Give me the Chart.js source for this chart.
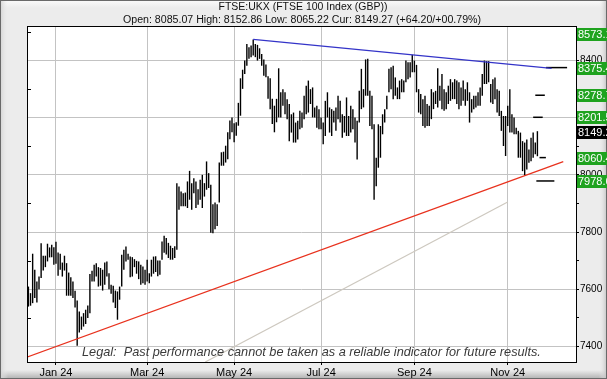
<!DOCTYPE html>
<html><head><meta charset="utf-8">
<script src="https://cdn.jsdelivr.net/npm/chart.js@4/dist/chart.umd.min.js"></script>
<style>html,body{margin:0;padding:0;background:#fff;overflow:hidden}#wrap{width:607px;height:379px}</style>
</head><body><div id="wrap"><canvas id="c" width="607" height="379"></canvas></div>
<script>
const titleText = 'FTSE:UKX (FTSE 100 Index (GBP))';
const subtitleText = 'Open: 8085.07 High: 8152.86 Low: 8065.22 Cur: 8149.27 (+64.20/+00.79%)';
const legalText = 'Legal:  Past performance cannot be taken as a reliable indicator for future results.';

// month tick labels and the trading-day index of each month's first bar
const monthLabels = ['Jan 24', 'Mar 24', 'May 24', 'Jul 24', 'Sep 24', 'Nov 24'];
const monthBarIndex = [13, 56, 97, 138, 182, 226];

const yTickValues = [7400, 7500, 7600, 7700, 7800, 7900, 8000, 8100, 8200, 8300, 8400, 8500];

// daily highs / lows, 241 trading days (mid Dec 2023 .. 21 Nov 2024)
const barHigh = [
 7609,7586,7724,7668,7627,7644,7761,7717,7717,7759,
 7746,7755,7747,7766,7728,7724,7693,7717,7691,7658,
 7642,7627,7594,7560,7522,7504,7516,7528,7543,7653,
 7664,7685,7691,7677,7674,7668,7693,7697,7656,7615,
 7612,7595,7592,7609,7720,7738,7749,7724,7714,7712,
 7705,7699,7697,7685,7679,7668,7703,7656,7703,7714,
 7715,7700,7700,7767,7787,7779,7762,7752,7744,7750,
 7971,7959,7942,7936,7938,7977,8014,7971,7988,7977,
 7950,7983,8000,7971,8047,8006,7965,7897,7903,7897,
 8043,8079,8081,8102,8149,8190,8201,8181,8184,8252,
 8338,8368,8400,8458,8447,8453,8474,8458,8455,8443,
 8423,8404,8386,8345,8338,8266,8242,8266,8373,8289,
 8300,8289,8265,8248,8212,8218,8183,8189,8224,8218,
 8277,8312,8330,8300,8306,8236,8242,8230,8201,8183,
 8259,8289,8236,8230,8224,8236,8277,8259,8212,8206,
 8271,8206,8242,8230,8201,8189,8294,8371,8300,8404,
 8406,8294,8277,8177,8060,8177,8171,8212,8230,8277,
 8371,8377,8382,8341,8306,8330,8335,8330,8400,8394,
 8394,8420,8400,8385,8300,8283,8265,8277,8248,8242,
 8300,8289,8294,8373,8312,8353,8300,8289,8312,8335,
 8324,8335,8330,8324,8306,8330,8300,8324,8289,8265,
 8277,8277,8289,8306,8353,8400,8398,8398,8318,8335,
 8341,8300,8294,8224,8206,8206,8242,8300,8212,8201,
 8165,8154,8148,8118,8113,8124,8089,8130,8148,8113,
 8152.86
];
const barLow = [
 7539,7542,7551,7569,7553,7600,7639,7665,7677,7697,
 7711,7712,7685,7689,7647,7668,7644,7665,7577,7577,
 7577,7569,7536,7402,7448,7458,7469,7478,7499,7516,
 7627,7627,7644,7609,7612,7595,7615,7644,7600,7584,
 7553,7534,7493,7563,7609,7668,7697,7703,7642,7644,
 7677,7654,7635,7615,7621,7615,7627,7621,7644,7654,
 7660,7645,7650,7703,7727,7721,7709,7703,7703,7709,
 7738,7878,7890,7890,7890,7884,7913,7878,7936,7884,
 7895,7913,7884,7924,7948,7954,7797,7796,7810,7821,
 7903,8032,8032,8043,8055,8125,8149,8114,8137,8172,
 8207,8301,8353,8382,8406,8412,8418,8412,8400,8406,
 8382,8347,8342,8266,8230,8178,8149,8184,8201,8201,
 8242,8212,8195,8118,8148,8113,8113,8124,8160,8165,
 8195,8212,8218,8248,8201,8201,8165,8160,8160,8107,
 8136,8201,8148,8136,8183,8154,8195,8183,8130,8148,
 8136,8136,8148,8160,8113,8054,8183,8230,8236,8277,
 8277,8171,8160,7913,7960,8025,8060,8142,8183,8230,
 8289,8300,8265,8277,8265,8265,8289,8289,8324,8335,
 8341,8359,8359,8289,8218,8212,8171,8165,8171,8171,
 8195,8230,8248,8236,8259,8230,8224,8230,8248,8259,
 8265,8265,8248,8230,8242,8259,8242,8259,8183,8218,
 8230,8236,8242,8242,8277,8318,8318,8324,8253,8248,
 8265,8218,8206,8154,8101,8066,8171,8148,8148,8142,
 8142,8060,8060,8013,7998,8019,8042,8048,8060,8072,
 8065.22
];

// trend lines: [bar index, value]
const resistanceLine = [[106, 8474], [246.7, 8373]];
const supportLine = [[-1, 7361], [252.2, 8046]];
const longTrendLine = [[83.4, 7345], [226, 7905]];

// target markers
const targetLevels = [8375.4, 8278.7, 8201.5, 8060.4, 7978.6];
const targetFrom = [244, 239, 238, 241, 239.5];
const targetTo = [254, 243.5, 242.5, 244, 248];

// right-hand value flags
const flagValues = [8573.1, 8375.4, 8278.7, 8201.5, 8149.27, 8060.4, 7978.6];
const flagTexts = ['8573.1', '8375.4', '8278.7', '8201.5', '8149.27', '8060.4', '7978.6'];
const currentValue = 8149.27;

const FONT = "'Liberation Sans', Arial, sans-serif";

const toPts = arr => arr.map(p => ({x: p[0], y: p[1]}));
const lineDs = (pts, color, w) => ({
  type: 'line', data: toPts(pts), borderColor: color, borderWidth: w,
  pointRadius: 0, fill: false, tension: 0, order: 1
});

const datasets = [
  {
    type: 'bar',
    data: barHigh.map((h, i) => ({x: i, y: [barLow[i], h]})),
    backgroundColor: '#000', borderWidth: 0, barThickness: 1.4, inflateAmount: 0,
    grouped: false, order: 2
  },
  lineDs(longTrendLine, '#cdc8bf', 1.2),
  lineDs(supportLine, '#e8321e', 1.3),
  lineDs(resistanceLine, '#3434c8', 1.3)
];
targetLevels.forEach((v, k) => {
  datasets.push(lineDs([[targetFrom[k], v], [targetTo[k], v]], '#000', 1.5));
});

function fitFont(ctx, text, style, target, base) {
  ctx.font = style + ' ' + base + 'px ' + FONT;
  const w = ctx.measureText(text).width;
  return style + ' ' + (base * target / w).toFixed(2) + 'px ' + FONT;
}

const framePlugin = {
  id: 'frame',
  beforeDraw(chart) {
    const ctx = chart.ctx, W = chart.width, H = chart.height, a = chart.chartArea;
    ctx.save();
    ctx.fillStyle = '#ececec';
    ctx.fillRect(0, 0, W, H);
    let g = ctx.createLinearGradient(0, 0, 0, 8);
    g.addColorStop(0, '#fbfbfb'); g.addColorStop(1, '#ececec');
    ctx.fillStyle = g; ctx.fillRect(0, 0, W, 8);
    g = ctx.createLinearGradient(0, H - 9, 0, H);
    g.addColorStop(0, '#ececec'); g.addColorStop(1, '#b0b0b0');
    ctx.fillStyle = g; ctx.fillRect(0, H - 9, W, 9);
    g = ctx.createLinearGradient(0, 0, 8, 0);
    g.addColorStop(0, '#d2d2d2'); g.addColorStop(1, 'rgba(236,236,236,0)');
    ctx.fillStyle = g; ctx.fillRect(0, 0, 8, H);
    g = ctx.createLinearGradient(W - 8, 0, W, 0);
    g.addColorStop(0, 'rgba(236,236,236,0)'); g.addColorStop(1, '#c2c2c2');
    ctx.fillStyle = g; ctx.fillRect(W - 8, 0, 8, H);
    ctx.strokeStyle = '#6a6a6a'; ctx.lineWidth = 1;
    ctx.strokeRect(0.5, 0.5, W - 1, H - 1);
    ctx.fillStyle = '#ffffff';
    ctx.fillRect(a.left, a.top, a.right - a.left, a.bottom - a.top);
    ctx.restore();
  },
  afterDatasetsDraw(chart) {
    const ctx = chart.ctx, a = chart.chartArea, ys = chart.scales.y;
    ctx.save();
    ctx.fillStyle = '#3a3a3a';
    ctx.font = fitFont(ctx, legalText, 'italic', 459, 12);
    ctx.textBaseline = 'middle'; ctx.textAlign = 'left';
    ctx.fillText(legalText, 82, 352.5);
    ctx.strokeStyle = '#000'; ctx.lineWidth = 1;
    ctx.strokeRect(Math.round(a.left) + 0.5, Math.round(a.top) + 0.5,
      Math.round(a.right) - Math.round(a.left), Math.round(a.bottom) - Math.round(a.top));
    ctx.beginPath();
    yTickValues.forEach(v => {
      if (v % 200 !== 0) {
        const y = Math.round(ys.getPixelForValue(v)) + 0.5;
        ctx.moveTo(a.left, y); ctx.lineTo(a.left + 4, y);
      }
    });
    ctx.stroke();
    ctx.restore();
  },
  afterDraw(chart) {
    const ctx = chart.ctx, a = chart.chartArea, ys = chart.scales.y;
    ctx.save();
    ctx.font = '11px ' + FONT;
    ctx.textBaseline = 'middle'; ctx.textAlign = 'left';
    flagValues.forEach((v, k) => {
      let y = ys.getPixelForValue(v);
      y = Math.max(y, a.top + 7.5);
      y = Math.round(y);
      ctx.fillStyle = v === currentValue ? '#000000' : '#1fa31f';
      ctx.fillRect(577, y - 6, 31, 13);
      ctx.fillStyle = '#ffffff';
      ctx.fillText(flagTexts[k], 578, y + 0.5);
    });
    ctx.fillStyle = '#111';
    ctx.textAlign = 'center';
    ctx.font = fitFont(ctx, titleText, 'normal', 169, 11);
    ctx.fillText(titleText, 303, 7.5);
    ctx.font = fitFont(ctx, subtitleText, 'normal', 358, 11);
    ctx.fillText(subtitleText, 302, 20);
    ctx.restore();
  }
};

new Chart(document.getElementById('c'), {
  type: 'bar',
  data: {datasets},
  options: {
    responsive: false, animation: false, devicePixelRatio: 1,
    layout: {padding: {left: 27, top: 26, right: 0, bottom: 0}},
    plugins: {legend: {display: false}, tooltip: {enabled: false}, title: {display: false}},
    scales: {
      x: {
        type: 'linear', min: -0.66, max: 258.2, offset: false, bounds: 'data',
        afterBuildTicks: s => { s.ticks = monthBarIndex.map(v => ({value: v})); },
        afterFit: s => { s.height = 17; },
        ticks: {
          autoSkip: false, maxRotation: 0, minRotation: 0, padding: 1, color: '#000',
          font: {family: FONT, size: 11},
          callback: v => { const k = monthBarIndex.indexOf(v); return k >= 0 ? monthLabels[k] : ''; }
        },
        grid: {offset: false, color: '#c3c3c3', lineWidth: 1, tickLength: 3, tickColor: '#000'},
        border: {display: true, color: '#000', width: 1}
      },
      y: {
        type: 'linear', position: 'right', min: 7345, max: 8521, bounds: 'data',
        afterBuildTicks: s => { s.ticks = yTickValues.map(v => ({value: v})); },
        afterFit: s => { s.width = 31; },
        ticks: {
          padding: 1, color: '#000', font: {family: FONT, size: 10},
          callback: v => (v % 200 === 0 ? String(v) : '')
        },
        grid: {
          color: c => (c.tick && c.tick.value % 200 === 0) ? '#c3c3c3' : 'rgba(0,0,0,0)',
          lineWidth: 1, tickLength: 3, tickColor: '#000'
        },
        border: {display: true, color: '#000', width: 1}
      }
    }
  },
  plugins: [framePlugin]
});
</script>
</body></html>
